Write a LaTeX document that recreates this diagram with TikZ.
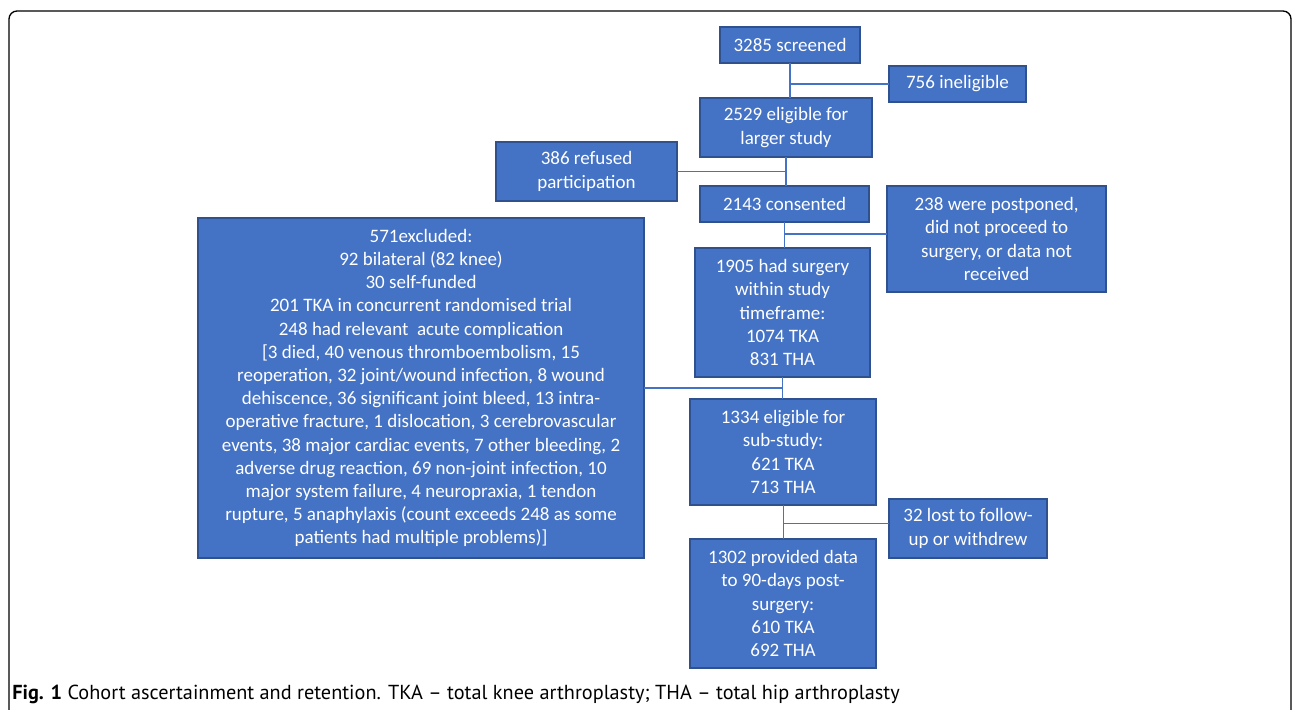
\documentclass[tikz,border=0pt]{standalone}
\usepackage{tikz}
\usetikzlibrary{positioning, calc}
\usepackage{fontspec}
\usepackage{xcolor}
\newfontfamily\boxfont{Carlito}
\newfontfamily\capfont{PT Sans}
\definecolor{fcblue}{HTML}{4472C4}
\definecolor{fcedge}{HTML}{2F528F}

\begin{document}
\begin{tikzpicture}[x=0.75pt, y=-0.75pt,
      bx/.style={draw=fcedge, fill=fcblue, line width=0.9pt, text=white, font=\boxfont\fontsize{14.25}{17.4}\selectfont, inner sep=0pt, outer sep=0pt, align=center},
      ln/.style={draw=fcblue, line width=0.8pt}]
    \clip (0,0) rectangle (1292,710);
    \draw[line width=1pt, rounded corners=6pt] (9,11) rectangle (1291,740);
    \node[bx, minimum width=105pt, minimum height=27pt] (scr) at (790,45) {3285 screened};
    \node[bx, minimum width=102.75pt, minimum height=27pt, below right=2.25pt and 21.75pt of scr] (inel) {756 ineligible};
    \node[bx, minimum width=129pt, minimum height=44.25pt, below=26.25pt of scr, xshift=-3pt] (elig) {2529 eligible for\\larger study};
    \node[bx, minimum width=135.75pt, minimum height=44.25pt, left=17.25pt of elig, yshift=-33pt] (ref) {386 refused\\participation};
    \node[bx, minimum width=126.75pt, minimum height=27pt, below=21.75pt of elig, xshift=-1.1pt] (cons) {2143 consented};
    \node[bx, minimum width=164.25pt, minimum height=79.5pt, below right=0pt and 13.5pt of cons.north east] (post) {238 were postponed,\\did not proceed to\\surgery, or data not\\received};
    \node[bx, minimum width=131.25pt, minimum height=96.75pt, below=19.5pt of cons, xshift=-1.5pt] (surg) {1905 had surgery\\within study\\timeframe:\\1074 TKA\\831 THA};
    \node[bx, minimum width=334.5pt, minimum height=255pt, left=38.25pt of surg.south west, yshift=-8.25pt] (excl) {571excluded:\\92 bilateral (82 knee)\\30 self-funded\\201 TKA in concurrent randomised trial\\248 had relevant~~acute complication\\{}[3 died, 40 venous thromboembolism, 15\\reoperation, 32 joint/wound infection, 8 wound\\dehiscence, 36 significant joint bleed, 13 intra-\\operative fracture, 1 dislocation, 3 cerebrovascular\\events, 38 major cardiac events, 7 other bleeding, 2\\adverse drug reaction, 69 non-joint infection, 10\\major system failure, 4 neuropraxia, 1 tendon\\rupture, 5 anaphylaxis (count exceeds 248 as some\\patients had multiple problems)]};
    \node[bx, minimum width=139.5pt, minimum height=79.5pt, below=16.5pt of surg, xshift=0.4pt] (sub) {1334 eligible for\\sub-study:\\621 TKA\\713 THA};
    \node[bx, minimum width=118.5pt, minimum height=44.25pt, right=9.75pt of sub.south east, yshift=-17.6pt] (lost) {32 lost to follow-\\up or withdrew};
    \node[bx, minimum width=139.5pt, minimum height=96.75pt, below=25.5pt of sub] (data) {1302 provided data\\to 90-days post-\\surgery:\\610 TKA\\692 THA};
    \draw[ln] (scr.south) -- (scr.south |- elig.north); \draw[ln] (inel.west) -- (inel.west -| scr.south);
    \draw[ln] (elig.south) -- (elig.south |- cons.north); \draw[ln] (ref.east) -- (ref.east -| elig.south);
    \draw[ln] (cons.south) -- (cons.south |- surg.north); \draw[ln] ([yshift=3.75pt]post.west) -- ([yshift=3.75pt]post.west -| cons.south);
    \draw[ln] (surg.south) -- (surg.south |- sub.north); \draw[ln] (excl.east) -- (excl.east -| surg.south);
    \draw[ln] (sub.south) -- (sub.south |- data.north); \draw[ln] ([yshift=4pt]lost.west) -- ([yshift=4pt]lost.west -| sub.south);
    \node[anchor=base west, inner sep=0pt, font=\capfont\fontsize{15.2}{18}\selectfont] (cap) at (12,699) {\textbf{Fig. 1} Cohort ascertainment and retention. TKA – total knee arthroplasty; THA – total hip arthroplasty};
  \end{tikzpicture}
\end{document}
